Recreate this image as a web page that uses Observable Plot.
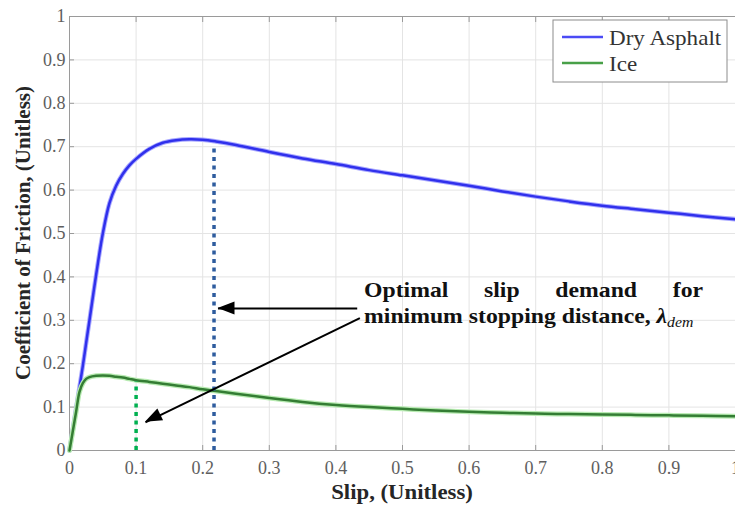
<!DOCTYPE html>
<html><head><meta charset="utf-8">
<script src="https://cdn.jsdelivr.net/npm/d3@7"></script>
<script src="https://cdn.jsdelivr.net/npm/@observablehq/plot@0.6"></script>
<style>html,body{margin:0;padding:0;background:#fff;} svg{display:block}</style>
</head><body><div id="chart"></div>
<script>
// ---- data ----
const slip = [0, 0.005, 0.01, 0.015, 0.02, 0.025, 0.03, 0.04, 0.05, 0.06, 0.07, 0.08, 0.09, 0.1, 0.12, 0.14, 0.16, 0.18, 0.2, 0.22, 0.25, 0.3, 0.35, 0.4, 0.45, 0.5, 0.55, 0.6, 0.65, 0.7, 0.75, 0.8, 0.85, 0.9, 0.95, 1.0];
const dryAsphalt = [0, 0.048, 0.097, 0.146, 0.195, 0.248, 0.30, 0.405, 0.50, 0.570, 0.610, 0.637, 0.657, 0.672, 0.695, 0.709, 0.715, 0.717, 0.716, 0.712, 0.704, 0.688, 0.673, 0.660, 0.646, 0.634, 0.622, 0.610, 0.597, 0.585, 0.574, 0.564, 0.556, 0.548, 0.540, 0.533];
const ice = [0, 0.045, 0.09, 0.135, 0.155, 0.165, 0.169, 0.172, 0.173, 0.172, 0.170, 0.168, 0.165, 0.162, 0.158, 0.154, 0.150, 0.146, 0.141, 0.137, 0.131, 0.121, 0.112, 0.105, 0.100, 0.096, 0.092, 0.089, 0.087, 0.085, 0.084, 0.083, 0.082, 0.081, 0.080, 0.079];
const tickValues = [0, 0.1, 0.2, 0.3, 0.4, 0.5, 0.6, 0.7, 0.8, 0.9, 1];
const tickLabels = ["0", "0.1", "0.2", "0.3", "0.4", "0.5", "0.6", "0.7", "0.8", "0.9", "1"];
const seriesNames = ["Dry Asphalt", "Ice"];
const seriesColors = ["#3030ec", "#347d34"];
const seriesHalos = ["#a8a8ff", "#b8ebb2"];
const legendColors = ["#4b4bf5", "#48a048"];
const optimalSlip = [0.1, 0.217];
const optimalMu = [0.158, 0.704];
const optimalColors = ["#00b050", "#2e5c9e"];
const arrowFrom = [[0.432, 0.327], [0.436, 0.305]];
const arrowTo = [[0.223, 0.327], [0.114, 0.065]];
const annotationLines = ["Optimal slip demand for", "minimum stopping distance, "];
const annotationSymbol = "λ";
const annotationSub = "dem";
const annotationPos = {x: 0.443, xRight: 0.952, line1: 0.352, line2: 0.292};
const xTitle = "Slip, (Unitless)";
const yTitle = "Coefficient of Friction, (Unitless)";

// ---- tables ----
const dry = slip.map((s, i) => ({slip: s, mu: dryAsphalt[i]}));
const icy = slip.map((s, i) => ({slip: s, mu: ice[i]}));
const opt = optimalSlip.map((s, i) => ({slip: s, mu: optimalMu[i], color: optimalColors[i]}));
const arrows = arrowFrom.map((f, i) => ({x1: f[0], y1: f[1], x2: arrowTo[i][0], y2: arrowTo[i][1]}));
const fmt = d => tickLabels[tickValues.indexOf(d)] ?? String(d);

const font = "'Liberation Serif', 'Times New Roman', serif";
const axisGray = "#9a9a9a";
const stretch = 1.13;

const plot = Plot.plot({
  width: 735, height: 506,
  marginLeft: 69, marginRight: 0, marginTop: 16, marginBottom: 56,
  style: {fontFamily: font, background: "white"},
  x: {domain: [0, 1], label: null},
  y: {domain: [0, 1], label: null},
  marks: [
    Plot.gridX(tickValues, {stroke: "#e4e4e4", strokeOpacity: 1}),
    Plot.gridY(tickValues, {stroke: "#e4e4e4", strokeOpacity: 1}),
    Plot.ruleY([0, 1], {stroke: axisGray}),
    Plot.ruleX([0], {stroke: axisGray}),
    Plot.axisX({ticks: tickValues, tickSize: -5, tickFormat: () => "", stroke: axisGray}),
    Plot.axisX({ticks: tickValues, anchor: "top", tickSize: -5, tickFormat: () => "", stroke: axisGray}),
    Plot.axisY({ticks: tickValues, tickSize: -5, tickFormat: () => "", stroke: axisGray}),
    Plot.axisX({ticks: tickValues, tickSize: 0, tickPadding: 11, tickFormat: fmt, fontSize: 18, fill: "#5e5e5e"}),
    Plot.axisY({ticks: tickValues, tickSize: 0, tickPadding: 4, tickFormat: fmt, fontSize: 18, fill: "#5e5e5e"}),
    Plot.line(dry, {x: "slip", y: "mu", stroke: seriesHalos[0], strokeWidth: 4.5, curve: "catmull-rom"}),
    Plot.line(dry, {x: "slip", y: "mu", stroke: seriesColors[0], strokeWidth: 2.5, curve: "catmull-rom"}),
    Plot.line(icy, {x: "slip", y: "mu", stroke: seriesHalos[1], strokeWidth: 5, curve: "catmull-rom"}),
    Plot.line(icy, {x: "slip", y: "mu", stroke: seriesColors[1], strokeWidth: 2.5, curve: "catmull-rom"}),
    Plot.ruleX(opt, {x: "slip", y1: 0, y2: "mu", stroke: "color", strokeWidth: 3.5, strokeDasharray: "4,4.5"}),
    Plot.link(arrows, {x1: "x1", y1: "y1", x2: "x2", y2: "y2", stroke: "black", strokeWidth: 2})
  ]
});
document.getElementById("chart").appendChild(plot);

const sx = plot.scale("x"), sy = plot.scale("y");
const svg = d3.select(plot);

// arrow heads (filled triangles)
arrows.forEach(a => {
  const x1 = sx.apply(a.x1), y1 = sy.apply(a.y1), x2 = sx.apply(a.x2), y2 = sy.apply(a.y2);
  const len = Math.hypot(x2 - x1, y2 - y1), ux = (x2 - x1) / len, uy = (y2 - y1) / len;
  const L = 17, W = 6.5;
  const bx = x2 - ux * L, by = y2 - uy * L;
  svg.append("polygon")
    .attr("points", [[x2, y2], [bx - uy * W, by + ux * W], [bx + uy * W, by - ux * W]].map(p => p.join(",")).join(" "))
    .attr("fill", "black");
});

// annotation text (horizontally stretched like the reference; line 1 justified)
const ax = sx.apply(annotationPos.x);
const target = (sx.apply(annotationPos.xRight) - ax) / stretch;
const ag = svg.append("g").attr("transform", `translate(${ax},0) scale(${stretch},1)`);
const t1 = ag.append("text")
  .attr("x", 0).attr("y", sy.apply(annotationPos.line1)).attr("text-anchor", "start")
  .attr("font-family", font).attr("font-weight", "bold").attr("font-size", 21).attr("fill", "#111")
  .text(annotationLines[0]);
const natural = t1.node().getComputedTextLength();
const gaps = annotationLines[0].split(" ").length - 1;
t1.attr("word-spacing", Math.max(0, (target - natural) / gaps));
const t2 = ag.append("text")
  .attr("x", 0).attr("y", sy.apply(annotationPos.line2)).attr("text-anchor", "start")
  .attr("font-family", font).attr("font-weight", "bold").attr("font-size", 21).attr("fill", "#111")
  .attr("xml:space", "preserve");
t2.append("tspan").text(annotationLines[1]);
t2.append("tspan").attr("font-style", "italic").text(annotationSymbol);
t2.append("tspan").attr("font-style", "italic").attr("font-weight", "normal").attr("font-size", 14).attr("dy", 4).text(annotationSub);

// legend
const lg = svg.append("g").attr("transform", "translate(553,20)");
lg.append("rect").attr("width", 174).attr("height", 62).attr("fill", "white").attr("stroke", "#8c8c8c");
seriesNames.forEach((n, i) => {
  const y = 17 + i * 26;
  lg.append("line").attr("x1", 9).attr("x2", 50).attr("y1", y).attr("y2", y).attr("stroke", legendColors[i]).attr("stroke-width", 2.5);
  lg.append("text").attr("x", 56).attr("y", y + 8).attr("text-anchor", "start").attr("font-family", font).attr("font-size", 22).attr("fill", "#333")
    .attr("transform", `translate(56,0) scale(1.05,1) translate(-56,0)`).text(n);
});

// axis titles
svg.append("text").attr("transform", `translate(402,499) scale(${stretch * 0.96},1)`).attr("text-anchor", "middle")
  .attr("font-family", font).attr("font-weight", "bold").attr("font-size", 21).attr("fill", "#262626").text(xTitle);
svg.append("text").attr("transform", "translate(30,233) rotate(-90)").attr("text-anchor", "middle")
  .attr("font-family", font).attr("font-weight", "bold").attr("font-size", 21).attr("fill", "#262626").text(yTitle);
</script>
</body></html>
